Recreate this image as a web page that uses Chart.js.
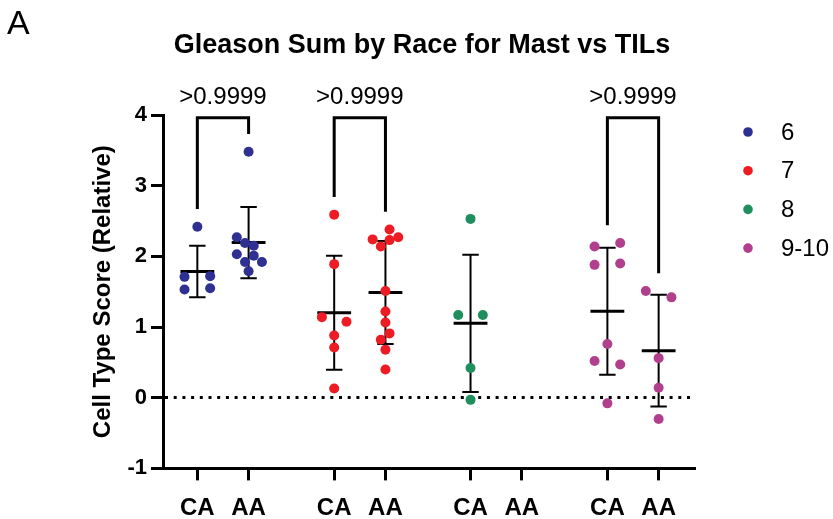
<!DOCTYPE html>
<html>
<head>
<meta charset="utf-8">
<script src="https://cdn.jsdelivr.net/npm/chart.js@4/dist/chart.umd.min.js"></script>
<style>
  html, body { margin: 0; padding: 0; background: #fff; }
  canvas { display: block; }
</style>
</head>
<body>
<canvas id="gleasonChart" width="833" height="519"></canvas>
<script>
// data
const gleasonGroups = ["6", "7", "8", "9-10"];
const groupColors = ["#2E3192", "#ED1C24", "#1F8F5E", "#B03F8D"];
const xTickLabels = ["CA", "AA", "CA", "AA", "CA", "AA", "CA", "AA"];
const xPositions = [0, 1, 2.67, 3.67, 5.33, 6.33, 8, 9];
const yTicks = [-1, 0, 1, 2, 3, 4];
const pLabels = [">0.9999", ">0.9999", null, ">0.9999"];

// scores per group, CA then AA
const g6CA = [2.42, 1.71, 1.72, 1.53, 1.55];
const g6AA = [3.48, 2.27, 2.19, 2.15, 2.03, 2.01, 1.92, 1.92, 1.79];
const g7CA = [2.59, 1.89, 1.14, 1.075, 0.88, 0.71, 0.13];
const g7AA = [2.38, 2.24, 2.23, 2.27, 2.14, 1.51, 1.22, 1.065, 0.91, 0.82, 0.68, 0.40];
const g8CA = [2.53, 1.17, 1.17, 0.42, -0.03];
const g8AA = [];
const g9CA = [2.19, 2.14, 1.90, 1.88, 0.76, 0.52, 0.47, -0.08];
const g9AA = [1.51, 1.42, 0.56, 0.14, -0.30];

// horizontal scatter offsets (x units) so dots don't overlap
const j6CA = [0, -0.25, 0.25, -0.25, 0.25];
const j6AA = [0, -0.23, -0.07, 0.1, -0.23, 0.1, -0.07, 0.26, 0];
const j7CA = [0, 0, -0.24, 0.24, 0, 0, 0];
const j7AA = [0.08, -0.25, 0.08, 0.25, -0.09, 0, 0, 0, 0.08, -0.09, 0, 0];
const j8CA = [0, -0.24, 0.24, 0, 0];
const j8AA = [];
const j9CA = [0.25, -0.25, 0.25, -0.25, 0, -0.25, 0.25, 0];
const j9AA = [-0.25, 0.25, 0, 0, 0];

const groupValues = [[g6CA, g6AA], [g7CA, g7AA], [g8CA, g8AA], [g9CA, g9AA]];
const groupJitter = [[j6CA, j6AA], [j7CA, j7AA], [j8CA, j8AA], [j9CA, j9AA]];

const FONT = "'Liberation Sans', Arial, Helvetica, sans-serif";

function meanSd(vals) {
  const n = vals.length;
  const m = vals.reduce((a, b) => a + b, 0) / n;
  const v = vals.reduce((a, b) => a + (b - m) * (b - m), 0) / (n - 1);
  return { mean: m, sd: Math.sqrt(v) };
}

const datasets = gleasonGroups.map((name, g) => {
  const pts = [];
  groupValues[g].forEach((vals, r) => {
    vals.forEach((y, i) => {
      pts.push({ x: xPositions[g * 2 + r] + groupJitter[g][r][i], y: y });
    });
  });
  return {
    label: name,
    data: pts,
    backgroundColor: groupColors[g],
    borderWidth: 0,
    pointRadius: 5,
    pointHoverRadius: 5,
  };
});

// mean +/- SD bars, drawn under the dots
const errorBars = {
  id: "errorBars",
  beforeDatasetsDraw(chart) {
    const { ctx, scales: { x, y } } = chart;
    ctx.save();
    ctx.strokeStyle = "#000";
    groupValues.forEach((pair, g) => {
      pair.forEach((vals, r) => {
        if (vals.length < 2) return;
        const { mean, sd } = meanSd(vals);
        const cx = xPositions[g * 2 + r];
        const px = x.getPixelForValue(cx);
        const capW = x.getPixelForValue(cx + 0.16) - px;
        const meanW = x.getPixelForValue(cx + 0.33) - px;
        const yTop = y.getPixelForValue(mean + sd);
        const yBot = y.getPixelForValue(mean - sd);
        const yMean = y.getPixelForValue(mean);
        ctx.lineWidth = 2;
        ctx.beginPath();
        ctx.moveTo(px, yTop); ctx.lineTo(px, yBot);
        ctx.moveTo(px - capW, yTop); ctx.lineTo(px + capW, yTop);
        ctx.moveTo(px - capW, yBot); ctx.lineTo(px + capW, yBot);
        ctx.stroke();
        ctx.lineWidth = 3;
        ctx.beginPath();
        ctx.moveTo(px - meanW, yMean); ctx.lineTo(px + meanW, yMean);
        ctx.stroke();
      });
    });
    ctx.restore();
  },
};

// comparison brackets with p values
const brackets = {
  id: "brackets",
  afterDatasetsDraw(chart) {
    const { ctx, scales: { x, y } } = chart;
    ctx.save();
    ctx.strokeStyle = "#000";
    ctx.fillStyle = "#000";
    ctx.lineWidth = 3;
    ctx.lineJoin = "miter";
    ctx.font = "24px " + FONT;
    ctx.textAlign = "center";
    ctx.textBaseline = "middle";
    pLabels.forEach((label, g) => {
      if (!label) return;
      const [ca, aa] = groupValues[g];
      const x1 = x.getPixelForValue(xPositions[g * 2]);
      const x2 = x.getPixelForValue(xPositions[g * 2 + 1]);
      const top = y.getPixelForValue(3.96);
      const l1 = y.getPixelForValue(Math.max(...ca) + 0.25);
      const l2 = y.getPixelForValue(Math.max(...aa) + 0.25);
      ctx.beginPath();
      ctx.moveTo(x1, l1);
      ctx.lineTo(x1, top);
      ctx.lineTo(x2, top);
      ctx.lineTo(x2, l2);
      ctx.stroke();
      ctx.fillText(label, (x1 + x2) / 2, 97);
    });
    ctx.restore();
  },
};

// panel letter, title and legend
const decorations = {
  id: "decorations",
  afterDraw(chart) {
    const { ctx } = chart;
    ctx.save();
    ctx.fillStyle = "#000";
    ctx.textBaseline = "alphabetic";
    ctx.textAlign = "left";
    ctx.font = "34px " + FONT;
    ctx.fillText("A", 7, 34);

    ctx.textAlign = "center";
    ctx.font = "bold 27px " + FONT;
    ctx.fillText("Gleason Sum by Race for Mast vs TILs", 422, 53);

    ctx.font = "24px " + FONT;
    ctx.textAlign = "left";
    ctx.textBaseline = "middle";
    gleasonGroups.forEach((name, g) => {
      const cy = 132 + g * 38.7;
      ctx.fillStyle = groupColors[g];
      ctx.beginPath();
      ctx.arc(748, cy, 4.8, 0, Math.PI * 2);
      ctx.fill();
      ctx.fillStyle = "#000";
      ctx.fillText(name, 781, cy + 1);
    });
    ctx.restore();
  },
};

new Chart(document.getElementById("gleasonChart"), {
  type: "scatter",
  data: { datasets },
  options: {
    responsive: false,
    animation: false,
    layout: { padding: { left: 80, right: 139, top: 115, bottom: 0 } },
    plugins: {
      legend: { display: false },
      title: { display: false },
      tooltip: { enabled: false },
    },
    scales: {
      x: {
        type: "linear",
        min: -0.67,
        max: 9.69,
        afterFit: (scale) => { scale.height = 50.6; },
        afterBuildTicks: (scale) => {
          scale.ticks = xPositions.map((v) => ({ value: v }));
        },
        ticks: {
          autoSkip: false,
          maxRotation: 0,
          padding: 14,
          color: "#000",
          font: { family: FONT, size: 24, weight: "bold" },
          callback: (value, index) => xTickLabels[index],
        },
        grid: {
          drawOnChartArea: false,
          drawTicks: true,
          tickLength: 12,
          lineWidth: 3,
          color: "#000",
        },
        border: { display: true, color: "#000", width: 3 },
      },
      y: {
        min: -1,
        max: 4,
        afterFit: (scale) => { scale.width = 83; },
        afterBuildTicks: (scale) => {
          scale.ticks = yTicks.map((v) => ({ value: v }));
        },
        ticks: {
          padding: 4,
          color: "#000",
          font: { family: FONT, size: 22, weight: "bold" },
        },
        grid: {
          drawOnChartArea: true,
          drawTicks: true,
          tickLength: 12,
          lineWidth: 3,
          color: (ctx) => (ctx.tick && ctx.tick.value === 0 ? "#000" : "rgba(0,0,0,0)"),
          tickColor: "#000",
          tickWidth: 3,
        },
        border: { display: true, color: "#000", width: 3, dash: [3, 5.7] },
        title: {
          display: true,
          text: "Cell Type Score (Relative)",
          color: "#000",
          padding: { top: 9, bottom: 0 },
          font: { family: FONT, size: 24, weight: "bold" },
        },
      },
    },
  },
  plugins: [errorBars, brackets, decorations],
});
</script>
</body>
</html>
